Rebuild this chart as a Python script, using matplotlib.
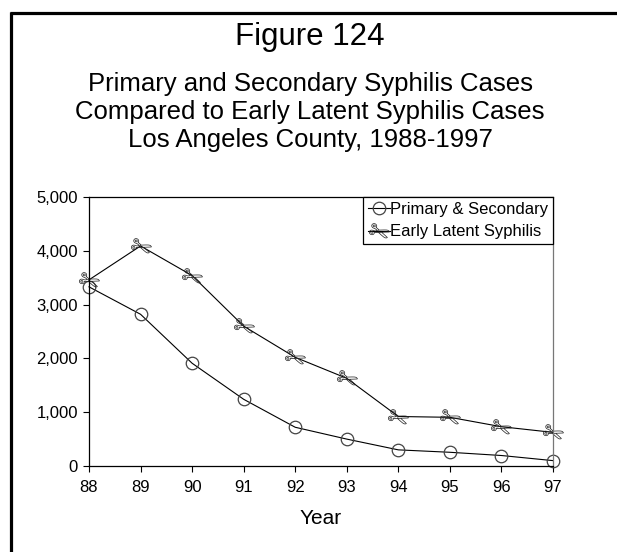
import matplotlib
matplotlib.use("Agg")
import matplotlib.pyplot as plt
from matplotlib.lines import Line2D
from matplotlib.markers import MarkerStyle
from matplotlib.transforms import Affine2D
from matplotlib.ticker import FuncFormatter

plt.rcParams['font.family'] = ['Liberation Sans', 'DejaVu Sans']

years = [88, 89, 90, 91, 92, 93, 94, 95, 96, 97]
primary_secondary = [3330, 2820, 1910, 1240, 720, 500, 300, 255, 195, 100]
early_latent = [3460, 4090, 3540, 2600, 2020, 1630, 920, 905, 730, 625]
series_labels = ["Primary & Secondary", "Early Latent Syphilis"]
y_ticks = [0, 1000, 2000, 3000, 4000, 5000]

W, H = 617, 552
fig = plt.figure(figsize=(W / 100, H / 100), dpi=100)

# figure frame (top and left heavy lines)
fig.add_artist(Line2D([10 / W, 1.0], [1 - 13 / H, 1 - 13 / H], transform=fig.transFigure,
                      color='black', lw=2.3, solid_capstyle='butt'))
fig.add_artist(Line2D([11 / W, 11 / W], [1 - 12 / H, 0.0], transform=fig.transFigure,
                      color='black', lw=2.3, solid_capstyle='butt'))

fig.text(310 / W, 1 - 37 / H, "Figure 124", ha='center', va='center', fontsize=22.5)
subtitle = ["Primary and Secondary Syphilis Cases",
            "Compared to Early Latent Syphilis Cases",
            "Los Angeles County, 1988-1997"]
for i, line in enumerate(subtitle):
    fig.text(310 / W, 1 - (84 + 28 * i) / H, line, ha='center', va='center', fontsize=18.5)

ax = fig.add_axes([89 / W, 1 - 466 / H, (553 - 89) / W, (466 - 197) / H])
ax.plot(years, primary_secondary, color='black', lw=0.8, marker='o', markersize=9,
        markerfacecolor='none', markeredgecolor='#444444', markeredgewidth=0.9,
        clip_on=False, label=series_labels[0])
scissor = MarkerStyle('$\u2704$', transform=Affine2D().rotate_deg(-20))
ax.plot(years, early_latent, color='black', lw=0.8, marker=scissor, markersize=14,
        markeredgewidth=0.0, markerfacecolor='#222222', clip_on=False,
        label=series_labels[1])

ax.set_xlim(88, 97)
ax.set_ylim(0, 5000)
ax.set_xticks(years)
ax.set_xticklabels([str(y) for y in years])
ax.set_yticks(y_ticks)
ax.yaxis.set_major_formatter(FuncFormatter(lambda v, p: f"{int(v):,}"))
ax.tick_params(direction='out', length=4, width=0.8, labelsize=12, colors='black')
ax.tick_params(axis='x', pad=6)
ax.tick_params(axis='y', pad=4)
for s in ax.spines.values():
    s.set_linewidth(0.9)
    s.set_color('black')
ax.spines['right'].set_color('#777777')
ax.set_xlabel("Year", fontsize=15, labelpad=10)

leg = ax.legend(loc='upper right', borderaxespad=0, fontsize=12, handlelength=1.3,
                handletextpad=0.0, borderpad=0.3, labelspacing=0.45, fancybox=False,
                framealpha=1, edgecolor='black')
leg.get_frame().set_linewidth(0.9)

fig.savefig("out.png", dpi=100)
